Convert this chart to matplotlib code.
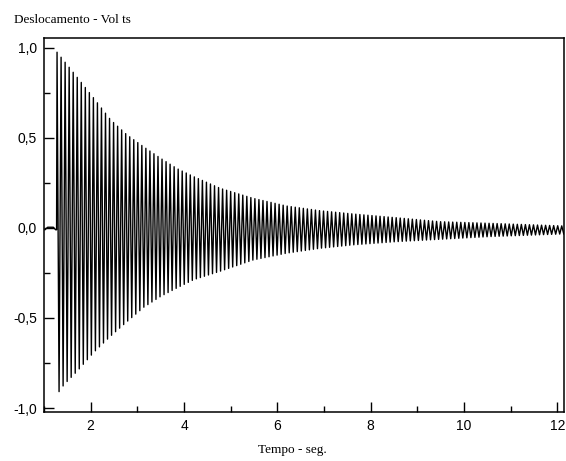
import numpy as np
import matplotlib.pyplot as plt
from matplotlib.ticker import MultipleLocator, FuncFormatter

# envelope (time in s, amplitude in V)
upper_t = [1.28, 1.64, 2.07, 2.43, 2.78, 3.14, 3.50, 3.85, 4.21, 4.78,
           5.48, 6.20, 6.91, 7.62, 8.55, 9.48, 10.55, 12.15]
upper_v = [0.976, 0.86, 0.72, 0.60, 0.517, 0.45, 0.387, 0.33, 0.285, 0.22,
           0.165, 0.122, 0.096, 0.078, 0.057, 0.035, 0.026, 0.011]
lower_t = [1.32, 1.43, 1.71, 2.07, 2.43, 2.78, 3.14, 3.50, 3.85, 4.21, 4.78,
           5.48, 6.20, 6.91, 7.62, 8.55, 9.48, 10.55, 12.15]
lower_v = [-0.91, -0.87, -0.796, -0.69, -0.60, -0.52, -0.44, -0.38, -0.333, -0.287, -0.24,
           -0.178, -0.14, -0.113, -0.094, -0.076, -0.063, -0.048, -0.033]

# quiet part before the hit
pre_t = [1.02, 1.08, 1.12, 1.20, 1.25, 1.27]
pre_v = [-0.01, 0.004, 0.004, 0.004, -0.01, -0.01]

START = 1.28
PERIOD = 0.0865
END = 12.15

# build the oscillation: alternate peaks and troughs every half period
half = np.arange(START, END, PERIOD / 2)
peaks = np.where(np.arange(len(half)) % 2 == 0,
                 np.interp(half, upper_t, upper_v),
                 np.interp(half, lower_t, lower_v))
t = np.concatenate([pre_t, half])
v = np.concatenate([pre_v, peaks])

fig = plt.figure(figsize=(5.66, 4.61), dpi=100)
ax = fig.add_axes([0.0777, 0.1063, 0.9195, 0.8113])
ax.plot(t, v, color='black', lw=1.0)

ax.set_xlim(1.0, 12.15)
ax.set_ylim(-1.022, 1.055)
ax.xaxis.set_major_locator(MultipleLocator(2))
ax.xaxis.set_minor_locator(MultipleLocator(1))
ax.yaxis.set_major_locator(MultipleLocator(0.5))
ax.yaxis.set_minor_locator(MultipleLocator(0.25))
ax.yaxis.set_major_formatter(FuncFormatter(lambda y, p: f"{y:.1f}".replace('.', ',')))
ax.tick_params(which='both', direction='in', top=False, right=False,
               labelsize=10, width=1)
ax.tick_params(which='major', length=7, pad=5)
ax.tick_params(which='minor', length=4)
for s in ax.spines.values():
    s.set_linewidth(1.1)
for lab in ax.get_xticklabels() + ax.get_yticklabels():
    lab.set_fontfamily('Liberation Sans')

fig.text(14 / 566, 1 - 20 / 461, "Deslocamento - Vol ts", family='Liberation Serif',
         fontsize=9.5, va='center', ha='left')
fig.text(292 / 566, 1 - 450 / 461, "Tempo - seg.", family='Liberation Serif',
         fontsize=9.5, va='center', ha='center')

fig.savefig('out.png', dpi=100)
